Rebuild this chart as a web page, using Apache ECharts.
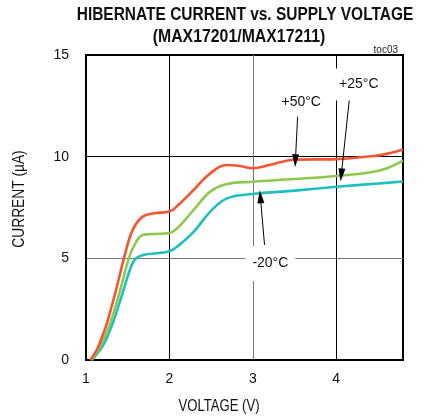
<!DOCTYPE html>
<html><head><meta charset="utf-8">
<script src="https://cdn.jsdelivr.net/npm/echarts@6/dist/echarts.min.js"></script>
<style>html,body{margin:0;padding:0;background:#fff}#c{width:426px;height:420px}</style>
</head><body><div id="c"></div>
<script>
var titleLine1 = 'HIBERNATE CURRENT vs. SUPPLY VOLTAGE';
var titleLine2 = '(MAX17201/MAX17211)';
var xName = 'VOLTAGE (V)';
var yName = 'CURRENT (µA)';
var xTicks = [1, 2, 3, 4];
var yTicks = [0, 5, 10, 15];
var seriesNames = ['+50°C', '+25°C', '-20°C'];
var red50 = [[1.05,0],[1.13,0.5],[1.18,1.0],[1.25,1.8],[1.36,3.44],[1.46,5.08],[1.56,6.4],[1.68,7.05],[1.82,7.22],[2.0,7.3],[2.1,7.6],[2.29,8.36],[2.49,9.18],[2.69,9.59],[2.85,9.54],[3.0,9.43],[3.2,9.59],[3.5,9.85],[4.0,9.88],[4.45,10.03],[4.65,10.18],[4.8,10.35]];
var green25 = [[1.06,0],[1.15,0.5],[1.21,1.0],[1.29,1.8],[1.41,3.44],[1.52,5.08],[1.6,5.8],[1.68,6.15],[1.82,6.2],[2.0,6.25],[2.1,6.5],[2.29,7.38],[2.49,8.28],[2.69,8.66],[3.0,8.77],[3.5,8.9],[4.0,9.05],[4.45,9.26],[4.65,9.5],[4.8,9.8]];
var cyan20 = [[1.07,0],[1.17,0.5],[1.24,1.0],[1.32,1.8],[1.45,3.44],[1.54,4.59],[1.6,5.0],[1.7,5.18],[1.85,5.25],[2.0,5.35],[2.1,5.6],[2.29,6.3],[2.49,7.3],[2.69,7.95],[3.0,8.16],[3.5,8.33],[4.0,8.52],[4.5,8.68],[4.8,8.78]];
// annotation arrows: [labelPos, arrowStart, arrowEnd]
var ann50 = [[3.58,12.7],[3.537,11.97],[3.51,9.8]];
var ann25 = [[4.27,13.55],[4.16,12.95],[4.06,9.1]];
var ann20 = [[3.21,4.75],[3.14,5.66],[3.09,8.03]];

var FONT = "'Liberation Sans',Arial,sans-serif";
var chart = echarts.init(document.getElementById('c'));
var arrowPath = 'path://M5,0 L10,16 L0,16 Z';
function arrow(a){
  return [{coord:a[1], symbol:'none'},{coord:a[2], symbol:arrowPath, symbolSize:[7,13]}];
}
function mk(name, data, color, ann, boxSize){
  return {
    name:name, type:'line', data:data, smooth:0.4, showSymbol:false, symbol:'none',
    lineStyle:{color:color, width:2.6}, z:3,
    markLine:{silent:true, animation:false, lineStyle:{color:'#000', width:1, type:'solid'},
      label:{show:false}, data:[arrow(ann)]},
    markPoint:{silent:true, animation:false, data:[{coord:ann[0], symbol:'rect', symbolSize:boxSize,
      itemStyle:{color:'#fff'},
      label:{show:true, position:'inside', formatter:name, color:'#111', fontSize:14, fontFamily:FONT}}]}
  };
}
chart.setOption({
  animation:false,
  textStyle:{fontFamily:FONT},
  title:[{text:'toc03', right:23, top:40, textStyle:{fontSize:10, fontWeight:'normal', color:'#222', fontFamily:FONT}}],
  graphic:[
    {type:'text', x:245, y:15, scaleX:0.86, silent:true,
      style:{text:titleLine1, font:"bold 18px 'Liberation Sans', Arial, sans-serif", fill:'#111', textAlign:'center', textVerticalAlign:'middle'}},
    {type:'text', x:239, y:37, scaleX:0.88, silent:true,
      style:{text:titleLine2, font:"bold 18px 'Liberation Sans', Arial, sans-serif", fill:'#111', textAlign:'center', textVerticalAlign:'middle'}},
    {type:'text', x:219, y:407, scaleX:0.82, silent:true,
      style:{text:xName, font:"16px 'Liberation Sans', Arial, sans-serif", fill:'#111', textAlign:'center', textVerticalAlign:'middle'}},
    {type:'text', x:20, y:199, rotation:Math.PI/2, scaleX:0.86, silent:true,
      style:{text:yName, font:"16px 'Liberation Sans', Arial, sans-serif", fill:'#111', textAlign:'center', textVerticalAlign:'middle'}}
  ],
  grid:{left:86, right:23, top:55, bottom:60, show:true, borderColor:'#000', borderWidth:2, backgroundColor:'transparent'},
  xAxis:{type:'value', min:1, max:4.8, interval:1,
    axisLine:{show:true, lineStyle:{color:'#000', width:2}}, axisTick:{show:false},
    axisLabel:{color:'#111', fontSize:14, margin:12, fontFamily:FONT,
      formatter:function(v){return xTicks.indexOf(v)>=0 ? String(v) : '';}},
    splitLine:{show:true, lineStyle:{color:['#000','#000','#777','#000'], width:1}}},
  yAxis:{type:'value', min:0, max:15, interval:5,
    axisLine:{show:true, lineStyle:{color:'#000', width:2}}, axisTick:{show:false},
    axisLabel:{color:'#111', fontSize:14, margin:17, fontFamily:FONT,
      formatter:function(v){return yTicks.indexOf(v)>=0 ? String(v) : '';}},
    splitLine:{show:true, lineStyle:{color:['#000','#777','#000','#000'], width:1}}},
  series:[
    mk(seriesNames[2], cyan20, '#1DBFBF', ann20, [50,35]),
    mk(seriesNames[1], green25, '#8DC850', ann25, [46,32]),
    mk(seriesNames[0], red50, '#F45535', ann50, [44,24])
  ]
});
</script></body></html>
